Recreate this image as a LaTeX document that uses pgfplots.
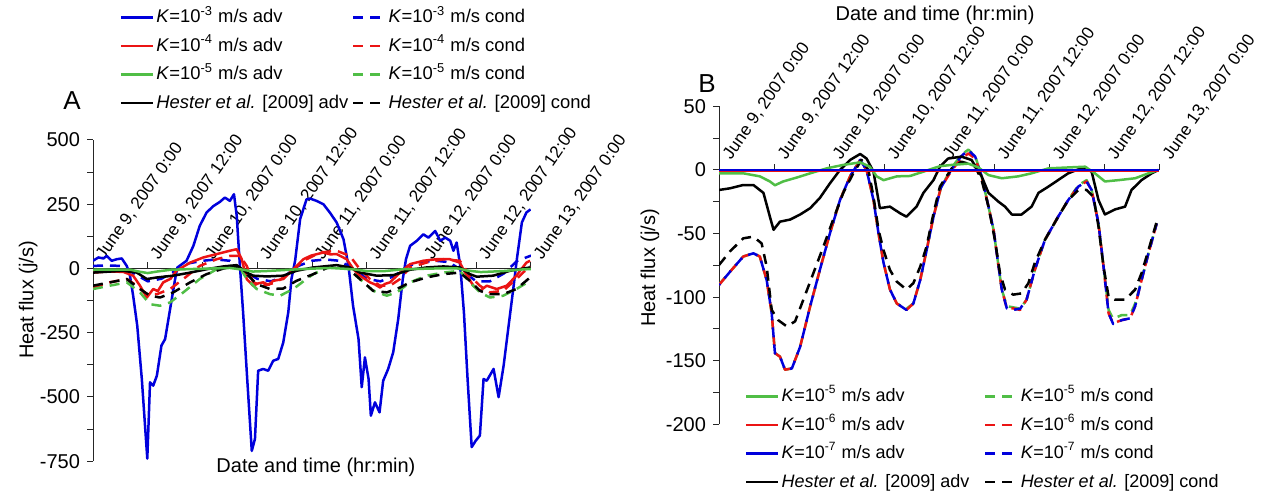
\documentclass[border=0pt]{standalone}
\usepackage{fontspec}
\setmainfont{Liberation Sans}
\usepackage{pgfplots}
\pgfplotsset{compat=1.18}
\definecolor{cblue}{RGB}{0,0,220}
\definecolor{cred}{RGB}{235,20,20}
\definecolor{cgreen}{RGB}{80,190,70}
\pgfplotsset{
  legimg/.style={legend image code/.code={\draw[##1] (0pt,0pt) -- (16pt,0pt);}},
  ln/.style={line width=1.25pt, line join=round},
  dp/.style={forget plot, ln},
  dsh/.style={dash pattern=on 5pt off 3.5pt},
  panel/.style={
    scale only axis,
    enlargelimits=false,
    axis y line=left, axis x line=middle,
    axis line style={-, line width=0.5pt, black!85},
    every tick/.style={line width=0.5pt, black!85},
    major tick length=3pt, minor tick length=3pt,
    xmin=0, xmax=96,
    xtick={0,12,...,96},
    hide obscured x ticks=false,
    xtick align=center,
    every major x tick/.append style={yshift=1.5pt},
    xticklabels={{June 9, 2007 0:00},{June 9, 2007 12:00},{June 10, 2007 0:00},{June 10, 2007 12:00},{June 11, 2007 0:00},{June 11, 2007 12:00},{June 12, 2007 0:00},{June 12, 2007 12:00},{June 13, 2007 0:00}},
    ytick align=outside,
    minor y tick num=1,
    yticklabel style={font=\fontsize{10}{10}\selectfont},
    /pgf/number format/assume math mode=true,
    label style={font=\fontsize{10}{10}\selectfont},
    legimg,
    legend columns=2,
    legend cell align=left,
  },
}
\begin{document}
\begin{tikzpicture}
\useasboundingbox (0pt,0pt) rectangle (630.5pt,245.5pt);
% ---------------- Panel A ----------------
\begin{axis}[panel,
  at={(46.5pt,14.9pt)}, anchor=south west,
  width=219pt, height=160.6pt,
  ymin=-750, ymax=500, ytick={-750,-500,...,500},
  xticklabel style={font=\fontsize{8.6}{8.6}\selectfont, xshift=6.5pt, yshift=4.5pt, rotate=55, anchor=south west, inner sep=0pt},
  xlabel={Date and time (hr:min)},
  xlabel style={at={(axis description cs:0.509,-0.018)}, anchor=center},
  ylabel={Heat flux (j/s)},
  ylabel style={at={(axis description cs:-0.148,0.502)}, anchor=center, rotate=0},
  legend style={at={(0.046,1.43)}, anchor=north west, draw=none, fill=none,
    font=\fontsize{9.2}{9.2}\selectfont, row sep=2.85pt,
    nodes={inner sep=1.2pt, text height=7pt, text depth=2pt},
    /tikz/every even column/.append style={column sep=0.5pt}},
]
\addlegendimage{cblue, ln}
\addlegendentry{\textit{K}=10\textsuperscript{-3} m/s adv}
\addlegendimage{cblue, ln, dsh}
\addlegendentry{\textit{K}=10\textsuperscript{-3} m/s cond}
\addlegendimage{cred, ln}
\addlegendentry{\textit{K}=10\textsuperscript{-4} m/s adv}
\addlegendimage{cred, ln, dsh}
\addlegendentry{\textit{K}=10\textsuperscript{-4} m/s cond}
\addlegendimage{cgreen, ln}
\addlegendentry{\textit{K}=10\textsuperscript{-5} m/s adv}
\addlegendimage{cgreen, ln, dsh}
\addlegendentry{\textit{K}=10\textsuperscript{-5} m/s cond}
\addlegendimage{black, ln}
\addlegendentry{\textit{Hester et al.} [2009] adv}
\addlegendimage{black, ln, dsh}
\addlegendentry{\textit{Hester et al.} [2009] cond}
% blue dashed (K=1e-3 cond)
\addplot[dp, cblue, dsh] coordinates {(0,10)(3,12)(6,10)(9,-20)(12,-50)(15,-40)(18,-10)(21,20)(24,30)(27,35)(30,30)(33,-10)(36,-40)(39,-50)(42,-30)(45,10)(48,30)(51,35)(54,30)(57,0)(60,-40)(63,-50)(66,-30)(69,10)(72,25)(75,30)(78,25)(81,-10)(84,-50)(87,-50)(90,-20)(93,30)(96,50)};
% blue solid (K=1e-3 adv)
\addplot[dp, cblue] coordinates {(0,30)(1.2,43)(2.3,39)(3,49)(4.1,30)(5.2,36)(6.3,39)(7.4,10)(8.1,-28)(8.8,-106)(9.7,-223)(10.7,-430)(11.4,-611)(11.9,-740)(12.5,-443)(13.2,-456)(14,-417)(15,-300)(15.8,-275)(16.9,-158)(18,-41)(18.5,4)(20.5,30)(22,88)(23.4,166)(24.9,218)(26.4,243)(27.8,259)(28.9,276)(30,263)(30.9,289)(31.5,205)(32.2,10)(32.9,-171)(33.8,-430)(34.8,-710)(35.5,-663)(36.2,-398)(37.3,-391)(38.4,-398)(39.5,-359)(40.6,-352)(41.7,-288)(42.8,-171)(43.5,-41)(44.3,30)(45.4,192)(46.8,269)(47.6,272)(49,263)(50.5,250)(51.9,218)(53.4,179)(54.9,114)(56,10)(57,-145)(58.2,-275)(58.9,-462)(59.6,-346)(60.4,-430)(60.9,-573)(61.8,-521)(62.8,-560)(63.6,-437)(64.7,-391)(65.8,-326)(66.9,-197)(67.9,-41)(68.6,36)(69.5,88)(71,108)(72.4,133)(73.5,120)(75,146)(76.1,108)(77.2,120)(78.3,108)(79,69)(79.7,101)(80.5,10)(81.3,-171)(82.1,-430)(83,-695)(83.9,-670)(84.8,-650)(85.6,-430)(86.3,-437)(87.8,-391)(88.9,-501)(90,-378)(91,-236)(92.2,-67)(92.9,36)(94,179)(95,218)(95.9,230)};
% red dashed (K=1e-4 cond)
\addplot[dp, cred, dsh] coordinates {(0,-74)(3.7,-54)(7.4,-41)(9.6,-67)(11.8,-100)(14,-100)(16.9,-80)(19.8,-41)(23.4,10)(27.1,36)(30,49)(32.2,49)(33.7,10)(35.1,-54)(37.3,-67)(40.2,-54)(43.2,-16)(46.1,30)(49.8,62)(53.4,69)(56.3,49)(58.5,-3)(60.7,-41)(62.9,-67)(65.1,-67)(67.3,-41)(69.5,4)(73.1,23)(76.8,36)(80.4,30)(82.6,-28)(84.8,-67)(87,-93)(89.9,-87)(92.8,-41)(95.8,10)};
% red solid (K=1e-4 adv)
\addplot[dp, cred] coordinates {(0,-16)(3,-12)(6.6,-13)(8.8,-28)(10.3,-67)(11.8,-113)(13.2,-80)(14.2,-88)(15.4,-54)(17,-40)(18.3,-9)(21.3,23)(24.2,43)(27.1,56)(30,69)(31.5,75)(32.6,36)(33.7,-41)(35.1,-67)(36.2,-58)(37.3,-54)(38.5,-64)(39.5,-48)(41.7,-41)(43.9,-3)(46.1,36)(47.8,50)(50.5,62)(52,55)(53.4,56)(55.6,36)(57.1,-3)(58.5,-28)(60.7,-54)(61.8,-62)(62.9,-74)(64,-60)(65.1,-54)(67.3,-16)(69.5,17)(72.4,30)(75.3,36)(78.2,36)(80.4,23)(81.9,-28)(83.4,-67)(84.8,-87)(86.3,-67)(88.5,-80)(90.7,-67)(92.8,-28)(95,23)(95.8,30)};
% green dashed (K=1e-5 cond)
\addplot[dp, cgreen, dsh] coordinates {(0,-80)(3.7,-67)(7.4,-54)(10.3,-93)(12.5,-139)(14.7,-145)(16.9,-132)(19.8,-93)(23.4,-41)(27.1,-3)(30,10)(32.2,4)(33.7,-41)(35.9,-80)(38.8,-100)(41,-106)(43.9,-80)(46.8,-41)(48.3,-22)(52,8)(55.6,4)(58.5,-41)(61.4,-87)(64.4,-106)(66.6,-93)(69.5,-54)(73.1,-28)(76.8,-16)(80.4,-9)(82.6,-54)(84.8,-93)(87,-113)(89.9,-106)(92.8,-80)(95.8,-48)};
% black dashed (Hester cond)
\addplot[dp, black, dsh] coordinates {(0,-67)(3.7,-54)(7.4,-41)(10.3,-80)(12.5,-106)(14.7,-113)(17.6,-93)(21.3,-54)(24.9,-22)(28.6,0)(31.5,8)(33.7,-22)(35.9,-61)(38.8,-80)(41.7,-78)(44.6,-48)(48.3,-22)(52,8)(55.6,4)(58.5,-41)(61.4,-87)(64.4,-93)(67.3,-74)(69.5,-54)(73.1,-35)(76.8,-22)(80.4,-16)(82.6,-48)(84.8,-87)(87,-100)(89.9,-100)(92.8,-80)(95.8,-35)};
% black solid (Hester adv)
\addplot[dp, black] coordinates {(0,-16)(6.6,-9)(9.6,-16)(11.8,-41)(14,-35)(17.6,-28)(21.3,-16)(24.9,-3)(28.6,8)(31.5,13)(33.7,-16)(35.1,-28)(38.1,-31)(41.7,-28)(44.6,-9)(48.3,4)(53.4,13)(56.3,4)(58.5,-16)(62.2,-28)(65.8,-26)(69.5,-5)(73.1,4)(76.8,8)(80.4,4)(82.6,-22)(84.1,-32)(87.7,-28)(91.4,-9)(95.8,4)};
% green solid (K=1e-5 adv)
\addplot[dp, cgreen] coordinates {(0,-5)(8,-4)(10,-12)(12,-18)(14,-12)(17,-5)(22,-2)(30,2)(33,-5)(35,-12)(38,-10)(42,-6)(46,-2)(52,2)(57,-3)(60,-10)(64,-10)(68,-3)(75,0)(80,0)(82,-8)(85,-14)(90,-10)(94,-4)(96,-2)};
\end{axis}
\node[font=\fontsize{13}{13}\selectfont] at (36pt,195pt) {A};
% ---------------- Panel B ----------------
\begin{axis}[panel,
  at={(359.5pt,33.3pt)}, anchor=south west,
  width=220pt, height=159pt,
  ymin=-200, ymax=50, ytick={-200,-150,...,50},
  xticklabel style={font=\fontsize{8.6}{8.6}\selectfont, xshift=7pt, yshift=5.5pt, rotate=55, anchor=south west, inner sep=0pt},
  xlabel={Date and time (hr:min)},
  xlabel style={at={(axis description cs:0.491,1.287)}, anchor=center},
  ylabel={Heat flux (j/s)},
  ylabel style={at={(axis description cs:-0.157,0.492)}, anchor=center, rotate=0},
  legend style={at={(0.044,0.137)}, anchor=north west, draw=none, fill=none,
    font=\fontsize{9}{9}\selectfont, row sep=2.85pt,
    nodes={inner sep=1.2pt, text height=7pt, text depth=2pt},
    /tikz/every even column/.append style={column sep=6pt}},
]
\addlegendimage{cgreen, ln}
\addlegendentry{\textit{K}=10\textsuperscript{-5} m/s adv}
\addlegendimage{cgreen, ln, dsh}
\addlegendentry{\textit{K}=10\textsuperscript{-5} m/s cond}
\addlegendimage{cred, ln}
\addlegendentry{\textit{K}=10\textsuperscript{-6} m/s adv}
\addlegendimage{cred, ln, dsh}
\addlegendentry{\textit{K}=10\textsuperscript{-6} m/s cond}
\addlegendimage{cblue, ln}
\addlegendentry{\textit{K}=10\textsuperscript{-7} m/s adv}
\addlegendimage{cblue, ln, dsh}
\addlegendentry{\textit{K}=10\textsuperscript{-7} m/s cond}
\addlegendimage{black, ln}
\addlegendentry{\textit{Hester et al.} [2009] adv}
\addlegendimage{black, ln, dsh}
\addlegendentry{\textit{Hester et al.} [2009] cond}
% green dashed (K=1e-5 cond)
\addplot[dp, cgreen, dsh] coordinates {(0,-90)(2.4,-80)(5.3,-68)(7.5,-65.5)(8.9,-68)(10.4,-86.5)(11.5,-112.7)(12.2,-144)(13.3,-146.7)(14.4,-157)(15.9,-156)(17.7,-139)(19.9,-107)(22,-78.6)(24.2,-49.8)(26.4,-23.6)(28.6,-5)(30.8,7.9)(32.2,0)(33.7,-23.6)(34.8,-49.8)(35.9,-73)(37.3,-94)(38.8,-105)(40.9,-109)(42.4,-105)(43.9,-86.5)(45.3,-63)(46.8,-36.7)(48.4,-14)(50.8,2)(52.9,12)(54.4,16)(55.9,11)(57.3,-5)(58.8,-28.8)(59.9,-47)(61,-76)(61.7,-94)(62.8,-107)(64.2,-108)(65.7,-109)(67.1,-102)(68.9,-78.6)(71.1,-55)(74,-36.7)(76.2,-23.6)(78.4,-12)(80.2,-8)(81.3,-15.7)(82.8,-42)(83.9,-76)(85,-110)(86,-117)(87.9,-114)(89.7,-114)(90.8,-105)(92.2,-86.5)(93.7,-65.5)(95.5,-42)};
% red dashed (K=1e-6 cond)
\addplot[dp, cred, dsh] coordinates {(0,-90.4)(2.4,-80)(5.3,-68)(7.5,-65.5)(8.9,-68)(10.4,-86.5)(11.5,-112.7)(12.2,-144)(13.3,-146.7)(14.4,-157)(15.9,-156)(17.7,-139)(19.9,-107)(22,-78.6)(24.2,-49.8)(26.4,-23.6)(28.6,-5)(30.8,7.9)(32.2,0)(33.7,-23.6)(34.8,-49.8)(35.9,-73)(37.3,-94)(38.8,-105)(40.9,-110)(42.4,-105)(43.9,-86.5)(45.3,-63)(46.8,-36.7)(48.4,-14)(50.8,0)(52.9,9)(54.4,13)(55.9,9)(57.3,-5)(58.8,-28.8)(59.9,-47)(61,-76)(61.7,-94)(62.8,-108.8)(64.2,-108.8)(65.7,-110)(67.1,-102)(68.9,-78.6)(71.1,-55)(74,-36.7)(76.2,-23.6)(78.4,-13)(80.2,-9)(81.3,-15.7)(82.8,-42)(83.9,-76)(85,-112.7)(86,-120.5)(87.9,-118)(89.7,-116.6)(90.8,-107)(92.2,-86.5)(93.7,-65.5)(95.5,-42)};
% blue dashed (K=1e-7 cond)
\addplot[dp, cblue, dsh, dash phase=4.25pt] coordinates {(0,-90.4)(2.4,-80)(5.3,-68)(7.5,-65.5)(8.9,-68)(10.4,-86.5)(11.5,-112.7)(12.2,-144)(13.3,-146.7)(14.4,-157)(15.9,-156)(17.7,-139)(19.9,-107)(22,-78.6)(24.2,-49.8)(26.4,-23.6)(28.6,-5)(30.8,7.9)(32.2,0)(33.7,-23.6)(34.8,-49.8)(35.9,-73)(37.3,-94)(38.8,-105)(40.9,-110)(42.4,-105)(43.9,-86.5)(45.3,-63)(46.8,-36.7)(48.4,-14)(50.8,1)(52.9,11)(54.4,15.7)(55.9,10.5)(57.3,-5)(58.8,-28.8)(59.9,-47)(61,-76)(61.7,-94)(62.8,-108.8)(64.2,-110)(65.7,-109)(67.1,-102)(68.9,-78.6)(71.1,-55)(74,-36.7)(76.2,-23.6)(78.4,-13)(80.2,-9)(81.3,-15.7)(82.8,-42)(83.9,-76)(85,-112.7)(86,-121)(87.9,-118)(89.7,-116.6)(90.8,-107)(92.2,-86.5)(93.7,-65.5)(95.5,-42)};
% black dashed (Hester cond)
\addplot[dp, black, dsh] coordinates {(0,-74.7)(2.4,-64)(5.3,-53.7)(7.5,-52.4)(9.3,-57.7)(10.4,-76)(11.5,-110)(12.9,-118)(14.8,-123)(16.6,-119)(18.4,-102)(20.6,-81)(22.8,-60)(24.9,-39)(27.1,-18)(29.3,-2.6)(31.1,7.9)(32.6,0)(33.7,-21)(34.8,-47)(35.9,-63)(37.3,-78.6)(38.8,-87.8)(40.9,-94)(42.4,-89)(43.9,-76)(45.3,-60)(46.8,-34)(48.2,-13)(50.8,1.3)(52.9,6.5)(54.4,5)(55.9,2.6)(57.3,-7.9)(58.8,-28.8)(60.2,-55)(61.3,-81)(62.4,-94)(64.2,-98)(66,-97)(67.5,-89)(68.9,-73)(71.1,-55)(74,-36.7)(76.2,-23.6)(78.4,-15.7)(80.2,-15.7)(81.7,-21)(82.8,-44.5)(83.9,-76)(85,-99.6)(86.4,-102)(88.6,-102)(90.8,-94)(92.2,-81)(93.7,-63)(95.5,-40.6)};
% black solid (Hester adv)
\addplot[dp, black] coordinates {(0,-15.7)(2.4,-14.4)(5.3,-11.8)(7.5,-11.8)(9.7,-18)(11.1,-36.7)(11.9,-47)(13.3,-40.6)(15.5,-39)(17.7,-35)(19.9,-30)(22,-22)(24.2,-10.5)(26.4,0)(28.6,7.9)(30.8,12.6)(32.2,9)(33.7,-1.3)(34.4,-15.7)(35.1,-30)(37.3,-28.8)(39.5,-34)(40.9,-36.7)(43.1,-28.8)(44.6,-18)(46.8,-7.9)(48.2,2.6)(50,9)(52.9,10.5)(55.1,7.9)(57.3,-5)(58.8,-18)(61,-25)(62.4,-28.8)(63.9,-35)(66,-35)(68.2,-28.8)(69.7,-18)(71.9,-13)(74,-7.9)(76.2,-2.6)(78.4,0.5)(79.9,1.3)(81.3,-1.3)(82.8,-23.6)(84.2,-35)(86.4,-31)(88.6,-28.8)(90,-15.7)(92.2,-7.9)(94.4,-2.6)(95.9,0)};
% green solid (K=1e-5 adv)
\addplot[dp, cgreen] coordinates {(0,-2.6)(5.3,-2.6)(8.9,-5)(11.1,-9)(12.2,-12)(14,-9)(16.9,-6)(19.9,-2.6)(23.5,1.3)(27.1,4)(30.8,6)(32.9,2.6)(34.4,-5)(35.9,-8)(38.8,-5)(41.7,-4.7)(44.6,-1.3)(48.2,3)(50.8,4)(54.4,5)(56.6,2)(58.8,-4)(61.7,-6.5)(65.3,-5)(68.2,-2.6)(71.9,1.3)(76.2,2)(79.9,2.6)(82,-2.6)(84.2,-9)(87.1,-8)(90.8,-6.5)(93.7,-2.6)(95.9,0)};
% red solid (K=1e-6 adv)
\addplot[dp, cred] coordinates {(0,-0.9)(24,-0.9)(48,-0.9)(72,-0.9)(96,-0.9)};
% blue solid (K=1e-7 adv)
\addplot[dp, cblue] coordinates {(0,0)(24,0)(48,0)(72,0)(96,0)};
\end{axis}
\node[font=\fontsize{13}{13}\selectfont] at (353.5pt,203.5pt) {B};
\end{tikzpicture}
\end{document}
